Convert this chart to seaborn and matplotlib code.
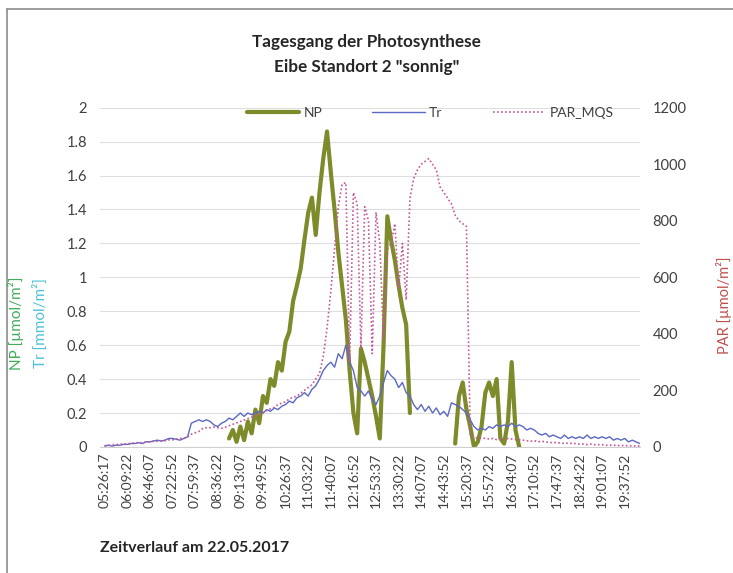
import numpy as np
import pandas as pd
import matplotlib.pyplot as plt
import seaborn as sns
from matplotlib.lines import Line2D

# category labels (every 6th sample below)
time_labels = ["05:26:17", "06:09:22", "06:46:07", "07:22:52", "07:59:37", "08:36:22",
               "09:13:07", "09:49:52", "10:26:37", "11:03:22", "11:40:07", "12:16:52",
               "12:53:37", "13:30:22", "14:07:07", "14:43:52", "15:20:37", "15:57:22",
               "16:34:07", "17:10:52", "17:47:37", "18:24:22", "19:01:07", "19:37:52"]
per_label = 6

nan = np.nan
# net photosynthesis NP [umol/m2]
np_vals = ([nan] * 33 +
           [0.05, 0.10, 0.03, 0.12, 0.04, 0.15, 0.08, 0.22, 0.14, 0.30,
            0.26, 0.40, 0.36, 0.50, 0.45, 0.62, 0.68, 0.86, 0.95, 1.05,
            1.22, 1.38, 1.47, 1.25, 1.50, 1.70, 1.86, 1.62, 1.40, 1.15,
            0.95, 0.75, 0.45, 0.20, 0.08, 0.58, 0.50, 0.40, 0.30, 0.18,
            0.05, 0.60, 1.36, 1.22, 1.10, 0.95, 0.82, 0.72, 0.20] +
           [nan] * 11 +
           [0.02, 0.30, 0.38, 0.22, 0.12, 0.00, 0.03, 0.12, 0.32, 0.38,
            0.30, 0.40, 0.05, 0.02, 0.15, 0.50, 0.10, 0.00] +
           [nan] * 32)

# transpiration Tr [mmol/m2]
tr_vals = [0.005, 0.01, 0.005, 0.01, 0.01, 0.015, 0.015, 0.02, 0.02, 0.025,
           0.02, 0.03, 0.03, 0.035, 0.04, 0.035, 0.04, 0.05, 0.05, 0.045,
           0.04, 0.05, 0.06, 0.14, 0.15, 0.16, 0.15, 0.16, 0.15, 0.13,
           0.12, 0.14, 0.15, 0.17, 0.16, 0.18, 0.20, 0.18, 0.20, 0.19,
           0.20, 0.21, 0.20, 0.22, 0.21, 0.23, 0.22, 0.24, 0.25, 0.27,
           0.26, 0.29, 0.30, 0.32, 0.30, 0.34, 0.36, 0.40, 0.45, 0.48,
           0.50, 0.47, 0.55, 0.52, 0.60, 0.50, 0.45, 0.35, 0.33, 0.30,
           0.33, 0.28, 0.25, 0.30, 0.38, 0.45, 0.42, 0.40, 0.35, 0.38,
           0.32, 0.30, 0.25, 0.22, 0.25, 0.21, 0.24, 0.20, 0.23, 0.19,
           0.21, 0.18, 0.26, 0.25, 0.24, 0.22, 0.20, 0.16, 0.12, 0.10,
           0.11, 0.10, 0.12, 0.11, 0.13, 0.12, 0.13, 0.12, 0.14, 0.12,
           0.13, 0.12, 0.10, 0.11, 0.10, 0.08, 0.07, 0.08, 0.06, 0.07,
           0.06, 0.05, 0.07, 0.05, 0.06, 0.05, 0.06, 0.05, 0.07, 0.05,
           0.06, 0.05, 0.06, 0.05, 0.06, 0.04, 0.05, 0.04, 0.05, 0.03,
           0.04, 0.03, 0.02]

# PAR_MQS [umol/m2]
par_vals = [5, 5, 8, 8, 10, 10, 12, 12, 15, 15, 15, 18, 18, 20, 20, 22, 22, 25, 25, 28,
            30, 30, 35, 45, 50, 55, 65, 68, 68, 70, 68, 66, 70,
            75, 80, 85, 90, 95, 100, 105, 110, 115, 120, 130, 135, 140, 150, 155, 160,
            170, 175, 180, 190, 200, 210, 220, 240, 260, 320, 420, 550, 700, 850,
            930, 935, 300, 900, 860, 350, 850, 800, 330, 830, 720, 380, 700, 720, 790,
            560, 720, 520, 880, 950, 980, 1000, 1010, 1020, 1000, 980, 920, 900, 880,
            860, 820, 800, 790, 780,
            40, 35, 30, 32, 30, 28, 30, 26, 28, 25, 30, 28, 26, 25, 24, 22, 20, 22, 18,
            20, 18, 15, 16, 15, 14, 12, 14, 12, 12, 10, 10, 8, 10, 8, 8, 8, 6, 6, 6,
            5, 5, 5, 4, 4, 3, 3]

n = len(tr_vals)
df = pd.DataFrame({"pos": np.arange(n) / per_label, "NP": np_vals,
                   "Tr": tr_vals, "PAR": par_vals})
# keep gaps in NP as separate pieces
df["seg"] = df["NP"].isna().cumsum()

np_col = "#7f8a2b"
tr_col = "#5b68c4"
par_col = "#c4589a"
txt_col = "#404040"

sns.set_style("white")
plt.rcParams["font.family"] = ["Lato", "DejaVu Sans"]

fig = plt.figure(figsize=(7.33, 5.73), dpi=100)
ax = fig.add_axes([0.136, 0.22, 0.737, 0.592])
ax2 = ax.twinx()

sns.lineplot(data=df.dropna(subset=["NP"]), x="pos", y="NP", units="seg",
             estimator=None, color=np_col, lw=3, ax=ax)
sns.lineplot(data=df, x="pos", y="Tr", color=tr_col, lw=1, ax=ax)
sns.lineplot(data=df, x="pos", y="PAR", color=par_col, lw=1.2,
             linestyle=(0, (1, 1.4)), ax=ax2)

ax.set_xlim(-0.22, 23.67)
ax.set_ylim(0, 2)
ax2.set_ylim(0, 1200)

yt = np.arange(0, 2.01, 0.2)
ax.set_yticks(yt)
ax.set_yticklabels([f"{v:g}" for v in np.round(yt, 1)])
ax2.set_yticks(np.arange(0, 1201, 200))
ax.set_xticks(np.arange(len(time_labels)))
ax.set_xticklabels(time_labels, rotation=90)

ax.grid(axis="y", color="#dedede", lw=0.8)
ax.set_axisbelow(True)
for a in (ax, ax2):
    for s in a.spines.values():
        s.set_visible(False)
    a.set_xlabel("")
    a.set_ylabel("")
ax.spines["bottom"].set_visible(True)
ax.spines["bottom"].set_color("#cfcfcf")

ax.tick_params(axis="y", length=0, pad=9, labelsize=10.5, labelcolor=txt_col)
ax.tick_params(axis="x", length=0, pad=4, labelsize=10, labelcolor=txt_col)
ax2.tick_params(axis="y", length=0, pad=9, labelsize=10.5, labelcolor=txt_col)

fig.text(0.5, 1 - 42 / 573, "Tagesgang der Photosynthese", ha="center", va="center",
         fontsize=12.3, fontweight="bold", color="#262626")
fig.text(0.5, 1 - 67 / 573, 'Eibe Standort 2 "sonnig"', ha="center", va="center",
         fontsize=12.3, fontweight="bold", color="#262626")
fig.text(16 / 733, 1 - 323 / 573, "NP [µmol/m²]", rotation=90, ha="center", va="center",
         fontsize=11, color="#3fae5a")
fig.text(40 / 733, 1 - 323 / 573, "Tr [mmol/m²]", rotation=90, ha="center", va="center",
         fontsize=11, color="#4cc2d6")
fig.text(724 / 733, 1 - 305 / 573, "PAR [µmol/m²]", rotation=90, ha="center", va="center",
         fontsize=10.5, color="#c0504d")
fig.text(100 / 733, 1 - 548 / 573, "Zeitverlauf am 22.05.2017", ha="left", va="center",
         fontsize=11.5, fontweight="bold", color="#262626")

handles = [Line2D([], [], color=np_col, lw=3),
           Line2D([], [], color=tr_col, lw=1),
           Line2D([], [], color=par_col, lw=1.2, linestyle=(0, (1, 1.4)))]
fig.legend(handles, ["NP", "Tr", "PAR_MQS"], loc="center", ncol=3,
           bbox_to_anchor=(430 / 733, 1 - 113 / 573), frameon=False,
           handlelength=3.8, columnspacing=3.6, handletextpad=0.3,
           prop={"size": 10}, labelcolor=txt_col)

# chart-area border (cut at right and bottom)
fig.add_artist(Line2D([7 / 733, 7 / 733], [0, 1 - 9 / 573], color="#8c8c8c", lw=1.2))
fig.add_artist(Line2D([7 / 733, 1], [1 - 9 / 573, 1 - 9 / 573], color="#8c8c8c", lw=1.2))

fig.savefig("out.png", dpi=100)
